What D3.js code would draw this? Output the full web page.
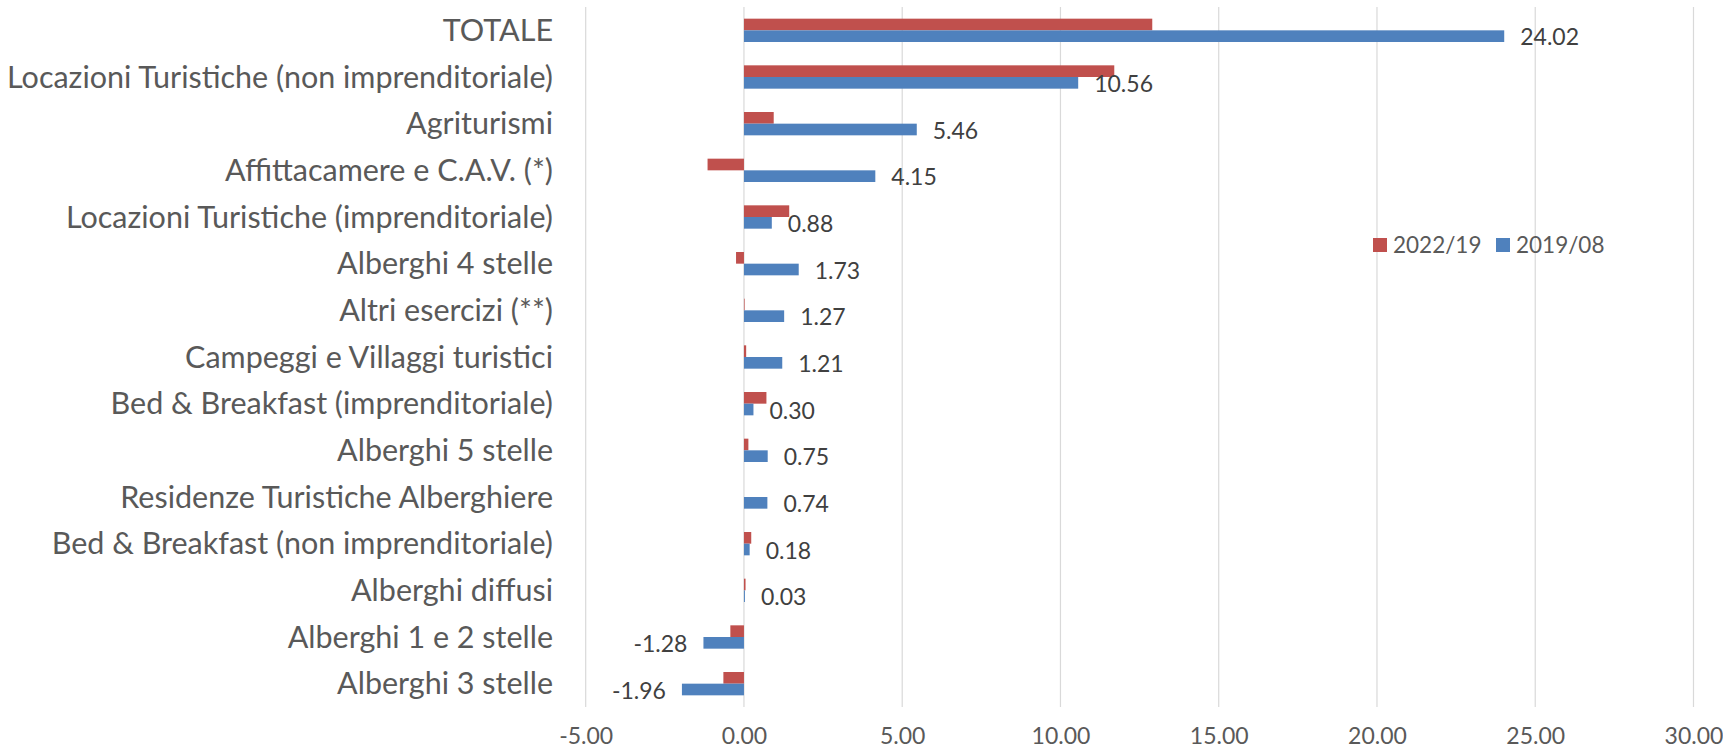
<!DOCTYPE html>
<html>
<head>
<meta charset="utf-8">
<script src="https://cdn.jsdelivr.net/npm/d3@7"></script>
<style>
  html, body { margin: 0; padding: 0; background: #fff; }
  svg { display: block; font-family: Lato, "Open Sans", sans-serif; }
</style>
</head>
<body>
<div id="chart"></div>
<script>
// categories top to bottom
const categories = [
  'TOTALE',
  'Locazioni Turistiche (non imprenditoriale)',
  'Agriturismi',
  'Affittacamere e C.A.V. (*)',
  'Locazioni Turistiche (imprenditoriale)',
  'Alberghi 4 stelle',
  'Altri esercizi (**)',
  'Campeggi e Villaggi turistici',
  'Bed & Breakfast (imprenditoriale)',
  'Alberghi 5 stelle',
  'Residenze Turistiche Alberghiere',
  'Bed & Breakfast (non imprenditoriale)',
  'Alberghi diffusi',
  'Alberghi 1 e 2 stelle',
  'Alberghi 3 stelle'
];
const seriesNames = ['2022/19', '2019/08'];
const values2022 = [12.9, 11.7, 0.94, -1.15, 1.43, -0.25, 0.02, 0.07, 0.71, 0.14, 0, 0.23, 0.05, -0.43, -0.65];
const values2019 = [24.02, 10.56, 5.46, 4.15, 0.88, 1.73, 1.27, 1.21, 0.30, 0.75, 0.74, 0.18, 0.03, -1.28, -1.96];
const xTicks = [-5, 0, 5, 10, 15, 20, 25, 30];
const colors = { '2022/19': '#C0504D', '2019/08': '#4F81BD' };

let width = 1723
let height = 748

// plain hyphen for negatives, like the original
let fmt = d3.formatLocale({ decimal: '.', thousands: ',', grouping: [3], currency: ['', ''], minus: '-' }).format('.2f')

let svg = d3.select('#chart').append('svg')
  .attr('width', width)
  .attr('height', height)

let x = d3.scaleLinear()
  .domain([-5, 30])
  .range([585.7, 1693.5])

let y = d3.scaleBand()
  .domain(categories)
  .range([7, 707])

let ySub = d3.scaleBand()
  .domain(seriesNames)
  .range([0, y.bandwidth()])
  .paddingOuter(1)

let rows = categories.map((c, i) => ({
  cat: c,
  '2022/19': values2022[i],
  '2019/08': values2019[i]
}))

// gridlines
svg.append('g')
  .attr('class', 'grid')
  .selectAll('line')
  .data(xTicks)
  .enter().append('line')
  .attr('x1', (d) => x(d))
  .attr('x2', (d) => x(d))
  .attr('y1', 7)
  .attr('y2', 707)
  .attr('stroke', '#D9D9D9')
  .attr('stroke-width', 1.2)

// tick labels
let xAxis = svg.append('g')
  .attr('transform', 'translate(0,707)')
  .call(d3.axisBottom(x)
    .tickValues(xTicks)
    .tickFormat(fmt)
    .tickSize(0)
    .tickPadding(37)
  )
xAxis.select('.domain').remove()
xAxis.selectAll('text')
  .attr('dy', null)
  .attr('font-family', 'Lato, sans-serif')
  .attr('font-size', 23)
  .attr('fill', '#595959')

// category labels
svg.append('g')
  .selectAll('text')
  .data(categories)
  .enter().append('text')
  .attr('x', 553)
  .attr('y', (d) => y(d) + y.bandwidth() / 2)
  .attr('dy', '0.35em')
  .attr('text-anchor', 'end')
  .attr('font-size', 30.5)
  .attr('fill', '#595959')
  .text((d) => d)

// bars
let groups = svg.append('g')
  .selectAll('g')
  .data(rows)
  .enter().append('g')
  .attr('transform', (d) => `translate(0,${y(d.cat)})`)

groups.selectAll('rect')
  .data((d) => seriesNames.map((s) => ({ s: s, v: d[s] })))
  .enter().append('rect')
  .attr('x', (d) => x(Math.min(0, d.v)))
  .attr('y', (d) => ySub(d.s))
  .attr('width', (d) => Math.abs(x(d.v) - x(0)))
  .attr('height', ySub.bandwidth())
  .attr('fill', (d) => colors[d.s])

// data labels for 2019/08
groups.append('text')
  .attr('x', (d) => d['2019/08'] >= 0 ? x(d['2019/08']) + 16 : x(d['2019/08']) - 16)
  .attr('y', ySub('2019/08') + ySub.bandwidth() / 2 + 1)
  .attr('dy', '0.35em')
  .attr('text-anchor', (d) => d['2019/08'] >= 0 ? 'start' : 'end')
  .attr('font-size', 23)
  .attr('fill', '#404040')
  .text((d) => fmt(d['2019/08']))

// legend
let legend = svg.append('g')
  .selectAll('g')
  .data(seriesNames)
  .enter().append('g')
  .attr('transform', (d, i) => `translate(${[1373, 1496][i]},238)`)

legend.append('rect')
  .attr('width', 14)
  .attr('height', 14)
  .attr('fill', (d) => colors[d])

legend.append('text')
  .attr('x', 20)
  .attr('y', 7)
  .attr('dy', '0.35em')
  .attr('font-size', 22.5)
  .attr('fill', '#595959')
  .text((d) => d)
</script>
</body>
</html>
